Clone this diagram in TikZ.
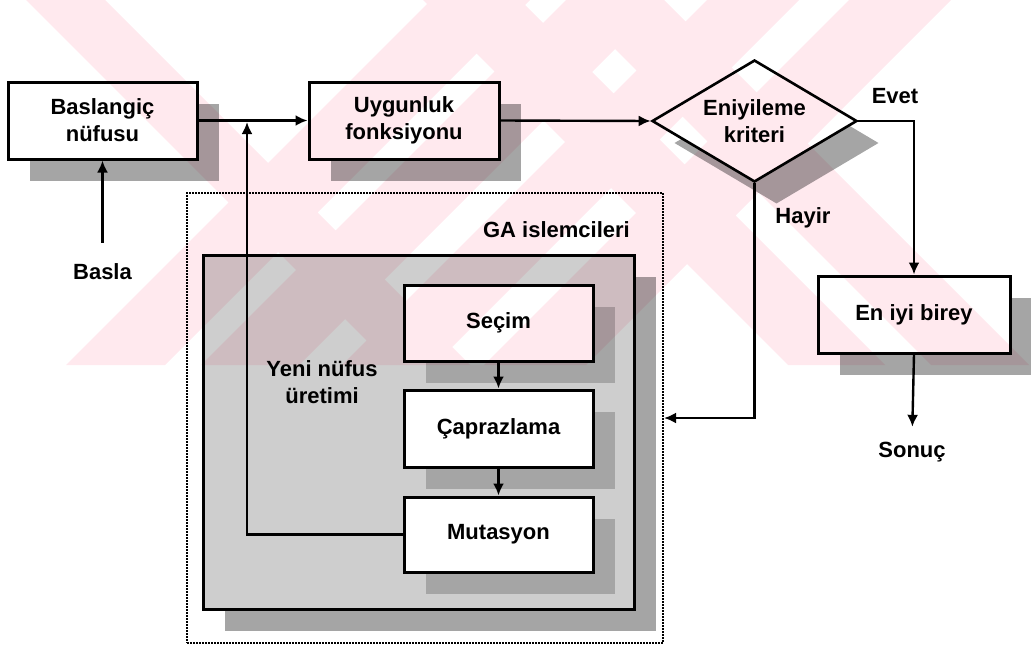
\documentclass[tikz,border=0pt]{standalone}
\usepackage{fontspec}
\setmainfont{Liberation Sans}
\usetikzlibrary{shapes.geometric,arrows.meta,shadows}
\definecolor{wmpink}{RGB}{255,233,238}
\definecolor{shadowgray}{RGB}{165,165,165}
\definecolor{panelgray}{RGB}{206,206,206}
\begin{document}
\begin{tikzpicture}[x=1pt,y=-1pt,
  txt/.style={font=\bfseries\fontsize{22}{27}\selectfont},
  shade/.style={drop shadow={shadow xshift=22pt,shadow yshift=-22pt,fill=shadowgray,opacity=1}},
  box/.style={draw,line width=3pt,fill=white,minimum width=190pt,minimum height=77pt,
    inner sep=0pt,align=center,txt,shade},
  decision/.style={diamond,draw,line width=2.6pt,fill=white,aspect=1.68,
    minimum width=205pt,minimum height=122pt,inner sep=0pt,align=center,txt,shade},
  lbl/.style={txt,inner sep=0pt,align=center},
  conn/.style={line width=2.4pt,-{Latex[length=12pt,width=11pt]}},
  band/.style={fill=wmpink}]
\useasboundingbox (0,0) rectangle (1031,645);

% main flow
\node[box,minimum width=189pt] (start) at (102.5,120.5) {Baslangiç\\nüfusu};
\node[box] (fit) at (404,120.5) {Uygunluk\\fonksiyonu};
\node[decision] (crit) at (754.5,121) {Eniyileme\\kriteri};
\node[box,minimum width=192pt] (best) at (914,314.5) {En iyi birey};
\node[lbl] (basla) at (102.5,272) {Basla};
\node[lbl] (sonuc) at (912,452) {Sonuç};
\node[lbl] (evet) at (895,96) {Evet};
\node[lbl] (hayir) at (803,218) {Hayir};

% GA operators group
\node[draw,densely dotted,line width=2pt,minimum width=476pt,minimum height=450pt,inner sep=0pt] (ga) at (425,418) {};
\node[draw,line width=3pt,fill=panelgray,minimum width=431pt,minimum height=354pt,inner sep=0pt,shade] (panel) at (418.5,432) {};
\node[lbl,anchor=east] (galbl) at (630,230) {GA islemcileri};
\node[box,minimum width=189pt,minimum height=76pt] (sel) at (498.5,323) {Seçim};
\node[box,minimum width=189pt,minimum height=77pt] (cross) at (498.5,428.5) {Çaprazlama};
\node[box,minimum width=189pt,minimum height=75pt] (mut) at (498.5,534.5) {Mutasyon};
\node[lbl] (yeni) at (322,382) {Yeni nüfus\\üretimi};
\coordinate (join) at (247,122);

% connectors
\draw[conn] (start.east) -- (fit.west);
\draw[conn] (fit.east) -- (crit.west);
\draw[conn] (crit.east) -| (best.north);
\draw[conn] (crit.south) |- (ga.east);
\draw[conn,shorten >=15pt] (best.south) -- (sonuc.north);
\draw[conn,shorten <=21pt] (basla.north) -- (start.south);
\draw[conn] (sel.south) -- (cross.north);
\draw[conn] (cross.south) -- (mut.north);
\draw[conn] (mut.west) -| (join);

% pale diagonal bands laid over the drawing, filled as one path
\begin{scope}[blend mode=multiply]
  \clip (0,0) rectangle (1031,365);
  \fill[band]
    (26,0) -- (105,0) -- (470,365) -- (391,365) -- cycle
    (423,0) -- (520,0) -- (885,365) -- (788,365) -- cycle
    (566,0) -- (664,0) -- (1029,365) -- (931,365) -- cycle
    (431,0) -- (530,0) -- (165,365) -- (66,365) -- cycle
    (566,0) -- (664,0) -- (299,365) -- (201,365) -- cycle
    (707,0) -- (799,0) -- (434,365) -- (342,365) -- cycle
    (849,0) -- (951,0) -- (586,365) -- (484,365) -- cycle;
\end{scope}
\end{tikzpicture}
\end{document}
